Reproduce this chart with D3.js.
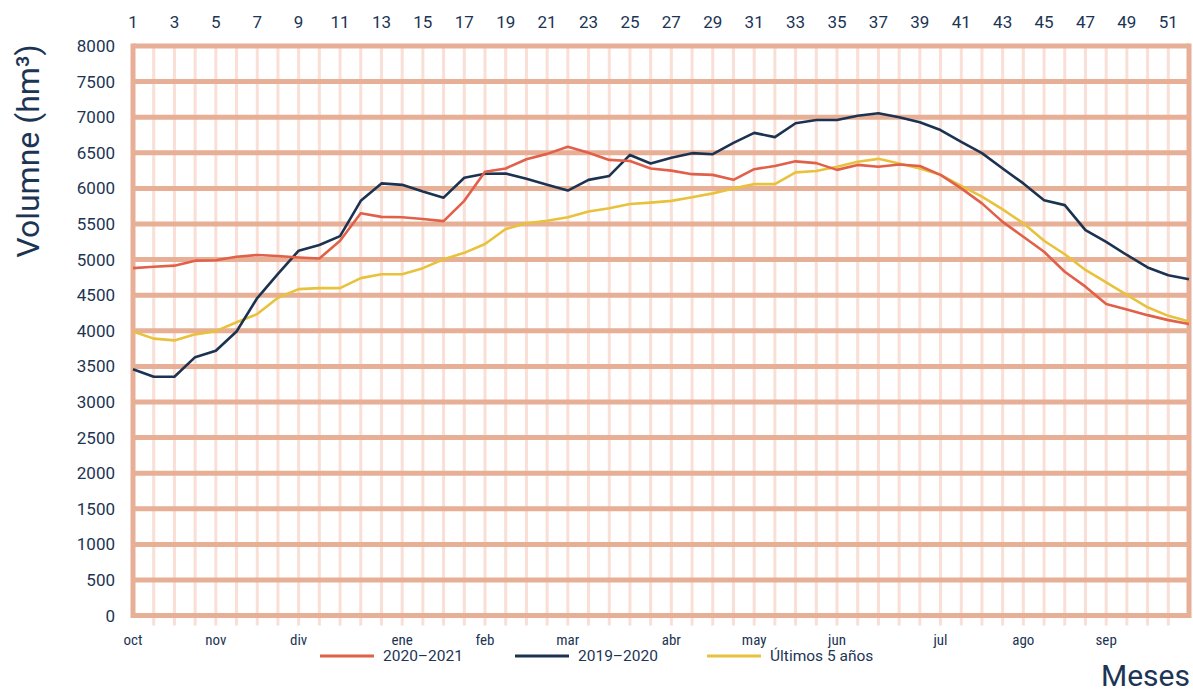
<html>
<style>
    body { margin: 0; background: #fff; }
    text { fill: #1c3554; }
</style>
<svg width="1193" height="693" font-family="Roboto, sans-serif"></svg>
<script src="https://d3js.org/d3.v7.min.js"></script>
<script>
    // week numbers 1..52 (hydrological year oct -> sep)
    var weeks = d3.range(1, 53);
    var topTicks = d3.range(1, 52, 2);
    var monthLabels = ["oct", "nov", "div", "ene", "feb", "mar", "abr", "may", "jun", "jul", "ago", "sep"];
    var monthWeeks = [1, 5, 9, 14, 18, 22, 27, 31, 35, 40, 44, 48];
    var yTicks = d3.range(0, 8001, 500);

    var s2021 = [4880, 4900, 4915, 4985, 4990, 5040, 5065, 5050, 5030, 5015, 5265, 5650, 5600, 5595, 5570, 5540, 5825, 6235,
        6280, 6410, 6485, 6585, 6500, 6400, 6385, 6280, 6250, 6200, 6190, 6120, 6270, 6315, 6380, 6355, 6260, 6330,
        6305, 6335, 6315, 6190, 6000, 5790, 5530, 5320, 5110, 4830, 4620, 4375, 4300, 4220, 4150, 4095];
    var s1920 = [3460, 3355, 3355, 3630, 3720, 3990, 4460, 4800, 5125, 5205, 5330, 5825, 6070, 6050, 5955, 5870, 6150, 6205,
        6210, 6135, 6050, 5970, 6120, 6175, 6470, 6350, 6430, 6495, 6480, 6640, 6780, 6720, 6915, 6960, 6960, 7020,
        7055, 7000, 6930, 6820, 6655, 6495, 6280, 6070, 5835, 5765, 5415, 5250, 5065, 4890, 4780, 4725];
    var s5y = [3990, 3890, 3865, 3950, 3995, 4120, 4235, 4465, 4585, 4600, 4600, 4740, 4795, 4795, 4880, 5005, 5095, 5220,
        5430, 5510, 5545, 5595, 5675, 5720, 5780, 5800, 5825, 5875, 5930, 6000, 6060, 6060, 6225, 6245, 6305, 6375,
        6415, 6350, 6280, 6190, 6035, 5885, 5705, 5510, 5265, 5075, 4855, 4680, 4505, 4330, 4210, 4130];

    var series = [
        { name: "2020\u20132021", values: s2021, color: "#e0604a" },
        { name: "2019\u20132020", values: s1920, color: "#1b3351" },
        { name: "\u00daltimos 5 a\u00f1os", values: s5y, color: "#e8c23c" }
    ];

    var svg = d3.select("svg");
    var pLeft = 133, pRight = 1189, pTop = 46, pBottom = 615.6;

    var x = d3.scaleLinear().domain([1, 52]).range([pLeft, pRight]);
    var y = d3.scaleLinear().domain([0, 8000]).range([pBottom, pTop]);

    // minor vertical grid, one per week
    svg.append("g").selectAll("line")
        .data(weeks.slice(1, -1))
        .enter().append("line")
        .attr("x1", d => x(d)).attr("x2", d => x(d))
        .attr("y1", pTop).attr("y2", pBottom + 10)
        .attr("stroke", "#f9dfd6").attr("stroke-width", 3);

    // thick horizontal grid
    svg.append("g").selectAll("line")
        .data(yTicks)
        .enter().append("line")
        .attr("x1", pLeft).attr("x2", pRight)
        .attr("y1", d => y(d)).attr("y2", d => y(d))
        .attr("stroke", "#e7af95").attr("stroke-width", 5);

    // left & right border
    svg.append("line").attr("x1", pLeft).attr("x2", pLeft).attr("y1", pTop - 2.5).attr("y2", pBottom + 2.5)
        .attr("stroke", "#e7af95").attr("stroke-width", 5);
    svg.append("line").attr("x1", pRight).attr("x2", pRight).attr("y1", pTop - 2.5).attr("y2", pBottom + 2.5)
        .attr("stroke", "#e7af95").attr("stroke-width", 5);

    // y tick labels
    svg.append("g").selectAll("text")
        .data(yTicks)
        .enter().append("text")
        .attr("x", 115).attr("y", d => y(d))
        .attr("dy", "0.35em")
        .attr("text-anchor", "end")
        .style("font-size", "17px")
        .text(d => d);

    // top week labels
    svg.append("g").selectAll("text")
        .data(topTicks)
        .enter().append("text")
        .attr("x", d => x(d)).attr("y", 28)
        .attr("text-anchor", "middle")
        .style("font-size", "17px")
        .text(d => d);

    // month labels
    svg.append("g").selectAll("text")
        .data(monthLabels)
        .enter().append("text")
        .attr("x", (d, i) => x(monthWeeks[i])).attr("y", 645)
        .attr("text-anchor", "middle")
        .style("font-size", "15px")
        .attr("font-family", "'Roboto Condensed', 'Liberation Sans Narrow', Roboto, sans-serif")
        .text(d => d);

    var line = d3.line()
        .x((d, i) => x(weeks[i]))
        .y(d => y(d));

    // draw 5 years first, then 19-20, then 20-21 on top
    svg.append("g").selectAll("path")
        .data([series[2], series[1], series[0]])
        .enter().append("path")
        .attr("d", d => line(d.values))
        .attr("fill", "none")
        .attr("stroke", d => d.color)
        .attr("stroke-width", 2.6)
        .attr("stroke-linejoin", "round");

    // axis titles
    svg.append("text")
        .attr("transform", "translate(39,151) rotate(-90)")
        .attr("text-anchor", "middle")
        .style("font-size", "32px")
        .text("Volumne (hm\u00b3)");

    svg.append("text")
        .attr("x", 1190).attr("y", 686)
        .attr("text-anchor", "end")
        .style("font-size", "30px")
        .text("Meses");

    // legend
    var legX = [320, 515, 707];
    var leg = svg.append("g").selectAll("g")
        .data(series)
        .enter().append("g")
        .attr("transform", (d, i) => "translate(" + legX[i] + ",656)");
    leg.append("line")
        .attr("x1", 0).attr("x2", 54)
        .attr("stroke", d => d.color).attr("stroke-width", 3);
    leg.append("text")
        .attr("x", 63).attr("dy", "0.35em")
        .style("font-size", "15.5px")
        .text(d => d.name);
</script>
</html>
